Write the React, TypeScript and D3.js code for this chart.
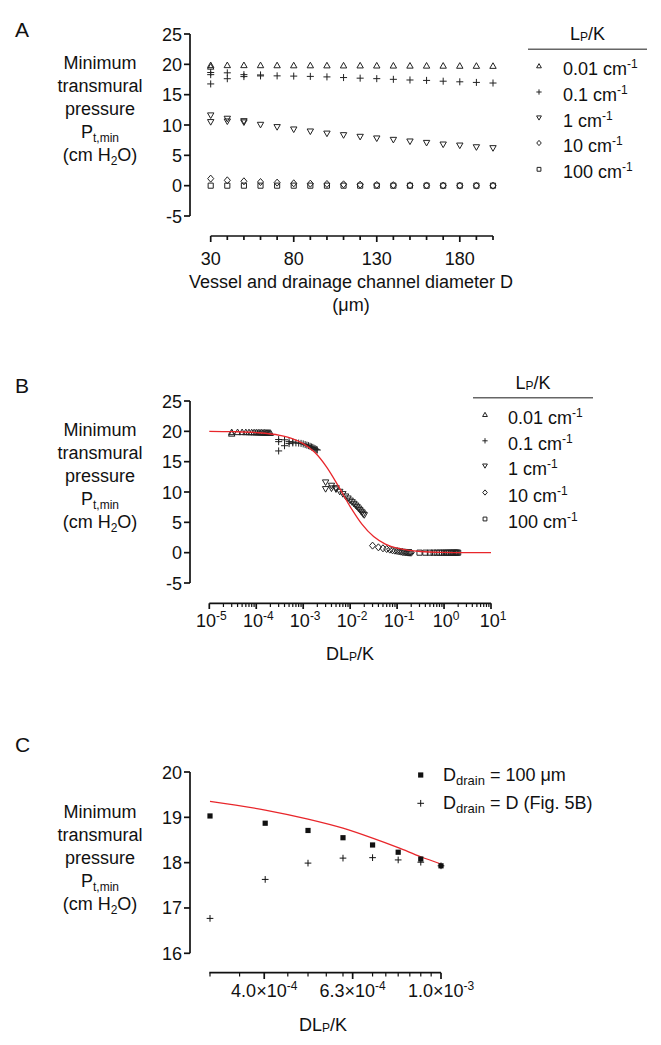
import React, { useEffect } from 'react';
import * as d3 from 'd3';

// ---------------- DATA ----------------
const diameters = [30, 40, 50, 60, 70, 80, 90, 100, 110, 120, 130, 140, 150, 160, 170, 180, 190, 200];
const lpkLevels = [0.01, 0.1, 1, 10, 100];
const lpkLabels = ['0.01', '0.1', '1', '10', '100'];
const lpkSymbols = ['up', 'plus', 'down', 'diamond', 'square'];

const pLpk001 = [19.85, 19.85, 19.85, 19.84, 19.83, 19.82, 19.82, 19.81, 19.8, 19.8, 19.79, 19.78, 19.77, 19.77, 19.76, 19.75, 19.74, 19.73];
const pLpk01 = [16.77, 17.63, 17.98, 18.09, 18.1, 18.06, 18.01, 17.93, 17.82, 17.72, 17.64, 17.53, 17.42, 17.35, 17.22, 17.12, 17.02, 16.92];
const pLpk1 = [10.5, 10.6, 10.45, 10.05, 9.67, 9.28, 8.95, 8.6, 8.34, 8.07, 7.8, 7.57, 7.3, 7.07, 6.8, 6.63, 6.35, 6.2];
const pLpk10 = [1.16, 0.88, 0.72, 0.6, 0.5, 0.39, 0.33, 0.28, 0.22, 0.17, 0.12, 0.08, 0.05, 0.03, 0.02, 0.01, 0.0, 0.0];
const pLpk100 = [0.0, 0.0, 0.0, 0.0, 0.0, 0.0, 0.0, 0.0, 0.0, 0.0, 0.0, 0.0, 0.0, 0.0, 0.0, 0.0, 0.0, 0.0];

// additional overlapping points at small diameters: [D, value]
const extraLpk001: [number, number][] = [[30, 19.6]];
const extraLpk01: [number, number][] = [[30, 18.65], [30, 18.3], [40, 18.6], [50, 18.3], [60, 18.25]];
const extraLpk1: [number, number][] = [[30, 11.6], [40, 11.05], [50, 10.65]];
const extraLpk10: [number, number][] = [];
const extraLpk100: [number, number][] = [];

const seriesValues = [pLpk001, pLpk01, pLpk1, pLpk10, pLpk100];
const seriesExtras = [extraLpk001, extraLpk01, extraLpk1, extraLpk10, extraLpk100];

// theoretical curve (panel B)
const curveBx = [1e-5, 3.16e-5, 1e-4, 3.16e-4, 5.62e-4, 1e-3, 1.78e-3, 3.16e-3, 5.62e-3, 1e-2, 1.78e-2, 3.16e-2, 5.62e-2, 0.1, 0.178, 0.316, 1, 3.16, 10];
const curveBy = [20.0, 19.95, 19.8, 19.35, 18.85, 17.97, 16.5, 14.1, 10.96, 7.6, 4.7, 2.65, 1.42, 0.74, 0.38, 0.19, 0.05, 0.01, 0.0];

// panel C
const cDLpK = [3e-4, 4e-4, 5e-4, 6e-4, 7e-4, 8e-4, 9e-4, 1e-3];
const cDrain100 = [19.03, 18.87, 18.71, 18.55, 18.39, 18.23, 18.08, 17.93];
const cDrainD = [16.77, 17.63, 17.99, 18.1, 18.11, 18.06, 18.01, 17.93];
const cCurve = [19.35, 19.16, 18.96, 18.76, 18.54, 18.33, 18.13, 17.97];

// ticks
const aYTicks = [-5, 0, 5, 10, 15, 20, 25];
const aXMajor = [30, 80, 130, 180];
const bYTicks = [-5, 0, 5, 10, 15, 20, 25];
const bXExps = [-5, -4, -3, -2, -1, 0, 1];
const cYTicks = [16, 17, 18, 19, 20];
const cXMajor = [
  { v: 3.98e-4, m: '4.0', e: '-4' },
  { v: 6.31e-4, m: '6.3', e: '-4' },
  { v: 1e-3, m: '1.0', e: '-3' },
];
const cXMinor = [3e-4, 3.5e-4, 4.5e-4, 5e-4, 5.5e-4, 6e-4, 7e-4, 7.5e-4, 8e-4, 8.5e-4, 9e-4, 9.5e-4];

// ---------------- STYLE ----------------
const FONT = "Arial, 'Liberation Sans', Helvetica, sans-serif";
const FS = 18;
const SUB = 12;
const MARK = '#222';
const RED = '#e8262b';

function symPath(type: string, x: number, y: number, k = 1): string {
  const a = 3.2 * k;
  switch (type) {
    case 'up':
      return `M${x},${y - a}L${x + a},${y + a * 0.75}L${x - a},${y + a * 0.75}Z`;
    case 'down':
      return `M${x - a},${y - a * 0.75}L${x + a},${y - a * 0.75}L${x},${y + a}Z`;
    case 'plus':
      return `M${x - a * 1.1},${y}H${x + a * 1.1}M${x},${y - a * 1.1}V${y + a * 1.1}`;
    case 'diamond':
      return `M${x},${y - a * 1.1}L${x + a * 0.95},${y}L${x},${y + a * 1.1}L${x - a * 0.95},${y}Z`;
    case 'square':
    default: {
      const h = a * 0.8;
      return `M${x - h},${y - h}H${x + h}V${y + h}H${x - h}Z`;
    }
  }
}

function Sym({ type, x, y, k = 1 }: { type: string; x: number; y: number; k?: number }) {
  return <path d={symPath(type, x, y, k)} fill="none" stroke={MARK} strokeWidth={1} />;
}

function YTitle({ cx, baselines }: { cx: number; baselines: number[] }) {
  return (
    <g fontFamily={FONT} fontSize={FS} textAnchor="middle" fill="#111">
      <text x={cx} y={baselines[0]}>Minimum</text>
      <text x={cx} y={baselines[1]}>transmural</text>
      <text x={cx} y={baselines[2]}>pressure</text>
      <text x={cx} y={baselines[3]}>
        P<tspan fontSize={SUB} dy={4}>t,min</tspan>
      </text>
      <text x={cx} y={baselines[4]}>
        (cm H<tspan fontSize={SUB} dy={4}>2</tspan>
        <tspan dy={-4}>O)</tspan>
      </text>
    </g>
  );
}

function Legend({ lineX0, lineX1, lineY, symX, textX, baselines }: any) {
  return (
    <g fontFamily={FONT} fontSize={FS} fill="#111">
      <text x={(lineX0 + lineX1) / 2} y={lineY - 9} textAnchor="middle">
        L<tspan fontSize={SUB} dy={1}>P</tspan>
        <tspan dy={-1}>/K</tspan>
      </text>
      <line x1={lineX0} x2={lineX1} y1={lineY} y2={lineY} stroke="#666" strokeWidth={1.6} />
      {lpkLabels.map((lab, i) => (
        <g key={lab}>
          <Sym type={lpkSymbols[i]} x={symX} y={baselines[i] - 9} k={0.75} />
          <text x={textX} y={baselines[i]}>
            {lab} cm<tspan fontSize={SUB} dy={-7}>-1</tspan>
          </text>
        </g>
      ))}
    </g>
  );
}

export default function App() {
  useEffect(() => {
    document.body.style.margin = '0';
  }, []);

  // ---- Panel A scales ----
  const xA = d3.scaleLinear().domain([30, 200]).range([210.7, 493]);
  const yA = d3.scaleLinear().domain([-5, 25]).range([216, 34]);
  // ---- Panel B ----
  const xB = d3.scaleLog().domain([1e-5, 10]).range([209.3, 491]);
  const yB = d3.scaleLinear().domain([-5, 25]).range([583, 401]);
  // ---- Panel C ----
  const xC = d3.scaleLog().domain([3e-4, 1e-3]).range([210, 441]);
  const yC = d3.scaleLinear().domain([16, 20]).range([953.3, 772]);

  const aPoints: { s: number; d: number; v: number }[] = [];
  seriesValues.forEach((vals, s) => {
    vals.forEach((v, j) => aPoints.push({ s, d: diameters[j], v }));
    seriesExtras[s].forEach(([d, v]) => aPoints.push({ s, d, v }));
  });

  const lineB = d3
    .line<number>()
    .x((_, i) => xB(curveBx[i]))
    .y((v) => yB(v))
    .curve(d3.curveMonotoneX);
  const lineC = d3
    .line<number>()
    .x((_, i) => xC(cDLpK[i]))
    .y((v) => yC(v))
    .curve(d3.curveMonotoneX);

  const aXMinor = d3.range(30, 201, 10).filter((t) => !aXMajor.includes(t));
  const bXMinor: number[] = [];
  for (let e = -5; e < 1; e++) for (let m = 2; m <= 9; m++) bXMinor.push(m * Math.pow(10, e));

  const axisStroke = { stroke: '#111', strokeWidth: 1.7, fill: 'none' };

  return (
    <svg width={661} height={1045} style={{ position: 'absolute', left: 0, top: 0, background: '#fff' }}>
      <rect width={661} height={1045} fill="#fff" />

      {/* ================= PANEL A ================= */}
      <text x={15} y={37} fontFamily={FONT} fontSize={21} fill="#111">A</text>
      <YTitle cx={100} baselines={[69, 92, 115, 138, 161]} />
      {/* y axis */}
      <line x1={190} x2={190} y1={yA(25)} y2={yA(-5)} {...axisStroke} />
      {aYTicks.map((t) => (
        <g key={t}>
          <line x1={184} x2={190} y1={yA(t)} y2={yA(t)} {...axisStroke} />
          <text x={182} y={yA(t) + 6.5} textAnchor="end" fontFamily={FONT} fontSize={FS} fill="#111">{t}</text>
        </g>
      ))}
      {/* x axis */}
      <line x1={xA(30)} x2={xA(200)} y1={236} y2={236} {...axisStroke} />
      {aXMajor.map((t) => (
        <g key={t}>
          <line x1={xA(t)} x2={xA(t)} y1={236} y2={242} {...axisStroke} />
          <text x={xA(t)} y={265} textAnchor="middle" fontFamily={FONT} fontSize={FS} fill="#111">{t}</text>
        </g>
      ))}
      {aXMinor.map((t) => (
        <line key={t} x1={xA(t)} x2={xA(t)} y1={236} y2={240} {...axisStroke} />
      ))}
      <text x={351} y={288} textAnchor="middle" fontFamily={FONT} fontSize={FS} fill="#111">
        Vessel and drainage channel diameter D
      </text>
      <text x={351} y={311} textAnchor="middle" fontFamily={FONT} fontSize={FS} fill="#111">(μm)</text>
      {aPoints.map((p, i) => (
        <Sym key={i} type={lpkSymbols[p.s]} x={xA(p.d)} y={yA(p.v)} />
      ))}
      <Legend lineX0={528} lineX1={647} lineY={49.3} symX={539} textX={563} baselines={[75, 101, 126.7, 152, 178.3]} />

      {/* ================= PANEL B ================= */}
      <text x={15} y={393} fontFamily={FONT} fontSize={21} fill="#111">B</text>
      <YTitle cx={100} baselines={[436, 459, 482, 505, 528]} />
      <line x1={190} x2={190} y1={yB(25)} y2={yB(-5)} {...axisStroke} />
      {bYTicks.map((t) => (
        <g key={t}>
          <line x1={184} x2={190} y1={yB(t)} y2={yB(t)} {...axisStroke} />
          <text x={182} y={yB(t) + 6.5} textAnchor="end" fontFamily={FONT} fontSize={FS} fill="#111">{t}</text>
        </g>
      ))}
      <line x1={xB(1e-5)} x2={xB(10)} y1={603.3} y2={603.3} {...axisStroke} />
      {bXExps.map((e) => (
        <g key={e}>
          <line x1={xB(Math.pow(10, e))} x2={xB(Math.pow(10, e))} y1={603.3} y2={609} {...axisStroke} />
          <text x={xB(Math.pow(10, e)) + 2} y={627} textAnchor="middle" fontFamily={FONT} fontSize={FS} fill="#111">
            10<tspan fontSize={SUB} dy={-7}>{e}</tspan>
          </text>
        </g>
      ))}
      {bXMinor.map((t, i) => (
        <line key={i} x1={xB(t)} x2={xB(t)} y1={603.3} y2={607} stroke="#111" strokeWidth={1.2} />
      ))}
      <text x={350} y={660} textAnchor="middle" fontFamily={FONT} fontSize={FS} fill="#111">
        DL<tspan fontSize={SUB} dy={1}>P</tspan>
        <tspan dy={-1}>/K</tspan>
      </text>
      {aPoints.map((p, i) => (
        <Sym key={i} type={lpkSymbols[p.s]} x={xB(p.d * 1e-4 * lpkLevels[p.s])} y={yB(p.v)} />
      ))}
      <path d={lineB(curveBy) || ''} fill="none" stroke={RED} strokeWidth={1.3} />
      <Legend lineX0={473} lineX1={593} lineY={397.7} symX={485} textX={508} baselines={[423.7, 449.8, 474.8, 501.5, 528]} />

      {/* ================= PANEL C ================= */}
      <text x={15} y={752} fontFamily={FONT} fontSize={21} fill="#111">C</text>
      <YTitle cx={100} baselines={[818, 841, 864, 887, 910]} />
      <line x1={190} x2={190} y1={yC(20)} y2={yC(16)} {...axisStroke} />
      {cYTicks.map((t) => (
        <g key={t}>
          <line x1={184} x2={190} y1={yC(t)} y2={yC(t)} {...axisStroke} />
          <text x={182} y={yC(t) + 6.5} textAnchor="end" fontFamily={FONT} fontSize={FS} fill="#111">{t}</text>
        </g>
      ))}
      <line x1={209.3} x2={xC(1e-3)} y1={972.7} y2={972.7} {...axisStroke} />
      {cXMajor.map((t) => (
        <g key={t.m}>
          <line x1={xC(t.v)} x2={xC(t.v)} y1={972.7} y2={979} {...axisStroke} />
          <text x={xC(t.v)} y={997} textAnchor="middle" fontFamily={FONT} fontSize={FS} fill="#111">
            {t.m}×10<tspan fontSize={SUB} dy={-7}>{t.e}</tspan>
          </text>
        </g>
      ))}
      {cXMinor.map((t, i) => (
        <line key={i} x1={xC(t)} x2={xC(t)} y1={972.7} y2={976.5} stroke="#111" strokeWidth={1.2} />
      ))}
      <text x={323} y={1031} textAnchor="middle" fontFamily={FONT} fontSize={FS} fill="#111">
        DL<tspan fontSize={SUB} dy={1}>P</tspan>
        <tspan dy={-1}>/K</tspan>
      </text>
      <path d={lineC(cCurve) || ''} fill="none" stroke={RED} strokeWidth={1.3} />
      {cDLpK.map((x, i) => (
        <rect key={'s' + i} x={xC(x) - 2.6} y={yC(cDrain100[i]) - 2.6} width={5.2} height={5.2} fill="#111" />
      ))}
      {cDLpK.map((x, i) => (
        <path key={'p' + i} d={symPath('plus', xC(x), yC(cDrainD[i]), 0.95)} stroke="#111" strokeWidth={1} fill="none" />
      ))}
      {/* legend C */}
      <rect x={420.7 - 2.6} y={775 - 2.6} width={5.2} height={5.2} fill="#111" />
      <text x={443} y={781} fontFamily={FONT} fontSize={FS} fill="#111">
        D<tspan fontSize={SUB + 1} dy={4}>drain</tspan>
        <tspan dy={-4}> = 100 μm</tspan>
      </text>
      <path d={symPath('plus', 420.7, 803.3, 0.95)} stroke="#111" strokeWidth={1} fill="none" />
      <text x={443} y={809} fontFamily={FONT} fontSize={FS} fill="#111">
        D<tspan fontSize={SUB + 1} dy={4}>drain</tspan>
        <tspan dy={-4}> = D (Fig. 5B)</tspan>
      </text>
    </svg>
  );
}
